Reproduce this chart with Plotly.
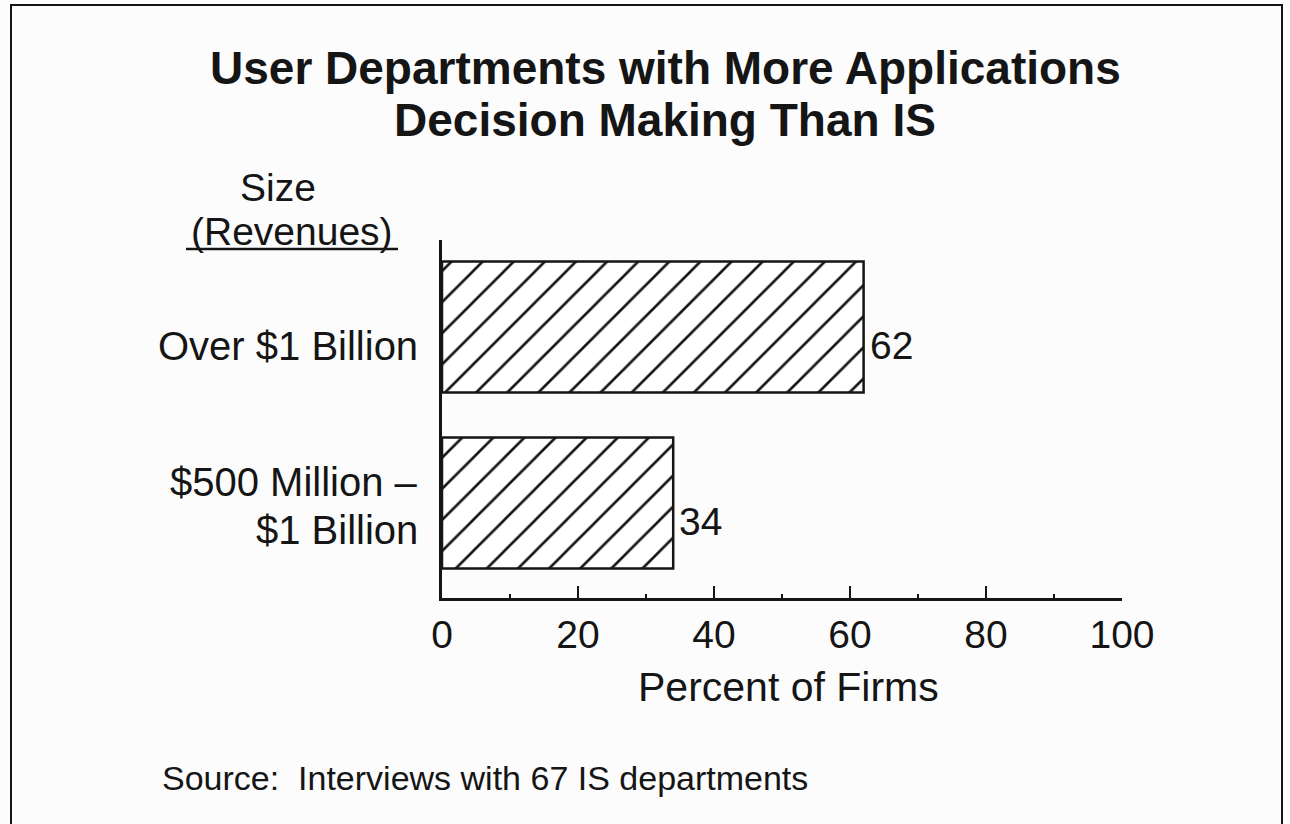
import plotly.graph_objects as go

# Data
categories = ["$500 Million –<br>$1 Billion", "Over $1 Billion"]
percent_of_firms = [34, 62]
x_tick_values = [0, 20, 40, 60, 80, 100]
x_tick_labels = ["0", "20", "40", "60", "80", "100"]

title_lines = ["User Departments with More Applications", "Decision Making Than IS"]
source_note = "Source:  Interviews with 67 IS departments"

FONT = "Liberation Sans, Arial, Helvetica, sans-serif"
INK = "#151515"

W, H = 1290, 824
L, R, T, B = 442, 1122, 240, 598   # plot-area edges in pixels


def px_x(px):
    return (px - L) / (R - L)


def px_y(py):
    return (B - py) / (B - T)


fig = go.Figure()
fig.add_trace(go.Bar(
    y=categories,
    x=percent_of_firms,
    orientation="h",
    width=0.745,
    marker=dict(
        color="white",
        line=dict(color=INK, width=2.5),
        pattern=dict(shape="/", fgcolor=INK, fgopacity=1, bgcolor="white",
                     size=22, solidity=0.12),
    ),
    hoverinfo="skip",
))

annotations = []

# value labels at the end of each bar
for cat, val in zip(categories, percent_of_firms):
    annotations.append(dict(
        x=val, y=cat, xref="x", yref="y", text=str(val), showarrow=False,
        xanchor="left", yanchor="middle", xshift=4, yshift=-19,
        font=dict(family=FONT, size=39, color=INK),
    ))

# category labels, right-aligned against the axis; multi-line labels are
# set line by line so the leading stays tight
for cat in categories:
    lines = cat.split("<br>")
    if len(lines) == 1:
        shifts = [-19]
    else:
        shifts = [21, -27]
    for line, dy in zip(lines, shifts):
        annotations.append(dict(
            x=0, y=cat, xref="paper", yref="y", text=line, showarrow=False,
            xanchor="right", yanchor="middle", align="right", xshift=-22, yshift=dy,
            font=dict(family=FONT, size=40, color=INK),
        ))

# title
for line, cy in zip(title_lines, [68, 120]):
    annotations.append(dict(
        x=px_x(665), y=px_y(cy), xref="paper", yref="paper", text=f"<b>{line}</b>",
        showarrow=False, xanchor="center", yanchor="middle",
        font=dict(family=FONT, size=46, color=INK),
    ))

# category header
annotations.append(dict(
    x=px_x(278), y=px_y(187), xref="paper", yref="paper", text="Size",
    showarrow=False, xanchor="center", yanchor="middle",
    font=dict(family=FONT, size=39, color=INK),
))
annotations.append(dict(
    x=px_x(292), y=px_y(231), xref="paper", yref="paper", text="(Revenues)",
    showarrow=False, xanchor="center", yanchor="middle",
    font=dict(family=FONT, size=39, color=INK),
))

# axis title
annotations.append(dict(
    x=px_x(788), y=px_y(687), xref="paper", yref="paper", text="Percent of Firms",
    showarrow=False, xanchor="center", yanchor="middle",
    font=dict(family=FONT, size=41, color=INK),
))

# source note
annotations.append(dict(
    x=px_x(160), y=px_y(778), xref="paper", yref="paper", text=source_note,
    showarrow=False, xanchor="left", yanchor="middle",
    font=dict(family=FONT, size=34, color=INK),
))

shapes = [
    # outer frame
    dict(type="rect", xref="paper", yref="paper",
         x0=px_x(11), x1=px_x(1282), y0=px_y(840), y1=px_y(5),
         line=dict(color=INK, width=2), fillcolor="rgba(0,0,0,0)", layer="below"),
    # underline for the header
    dict(type="line", xref="paper", yref="paper",
         x0=px_x(186), x1=px_x(398), y0=px_y(249), y1=px_y(249),
         line=dict(color=INK, width=2.5)),
]

fig.update_layout(
    width=W, height=H,
    margin=dict(l=L, r=W - R, t=T, b=H - B, autoexpand=False),
    paper_bgcolor="#fcfcfd",
    plot_bgcolor="rgba(0,0,0,0)",
    showlegend=False,
    annotations=annotations,
    shapes=shapes,
    font=dict(family=FONT, color=INK),
)

fig.update_xaxes(
    range=[0, 100],
    tickvals=x_tick_values, ticktext=x_tick_labels,
    ticks="inside", ticklen=12, tickwidth=2, tickcolor=INK,
    minor=dict(dtick=10, ticks="inside", ticklen=4, tickwidth=2, tickcolor=INK),
    showline=True, linecolor=INK, linewidth=2.5,
    showgrid=False, zeroline=False,
    tickfont=dict(family=FONT, size=39, color=INK),
    fixedrange=True,
)

fig.update_yaxes(
    type="category",
    categoryorder="array", categoryarray=categories,
    range=[-0.54, 1.494],
    showticklabels=False, ticks="",
    showline=True, linecolor=INK, linewidth=2.5,
    showgrid=False, zeroline=False,
    fixedrange=True,
)

fig.write_html("out.html", config={"displayModeBar": False})
